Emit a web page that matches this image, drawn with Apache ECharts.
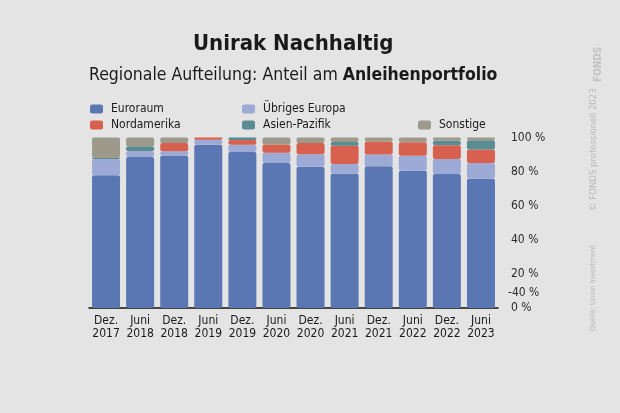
<!DOCTYPE html>
<html>
<head>
<meta charset="utf-8">
<script src="https://cdn.jsdelivr.net/npm/echarts@6/dist/echarts.min.js"></script>
<style>
html,body{margin:0;padding:0;background:#e4e4e4;}
#c{width:620px;height:413px;}
</style>
</head>
<body>
<div id="c"></div>
<script>
var categories = ['Dez.\n2017','Juni\n2018','Dez.\n2018','Juni\n2019','Dez.\n2019','Juni\n2020','Dez.\n2020','Juni\n2021','Dez.\n2021','Juni\n2022','Dez.\n2022','Juni\n2023'];
var euroraum     = [77.8, 88.6, 89.4, 95.8, 91.5, 85.0, 82.9, 78.8, 83.1, 80.5, 78.6, 75.8];
var uebrigesEur  = [9.6, 3.3, 2.5, 2.9, 4.3, 6.0, 7.3, 5.7, 7.0, 8.8, 8.8, 9.2];
var nordamerika  = [0, 0, 4.9, 1.3, 2.8, 4.9, 6.6, 10.6, 7.6, 7.9, 8.0, 8.0];
var asienPazifik = [0.6, 2.9, 0, 0, 1.4, 0, 0, 2.2, 0, 0, 2.7, 5.4];
var sonstige     = [12.0, 5.2, 3.2, 0, 0, 4.1, 3.2, 2.7, 2.3, 2.8, 1.9, 1.6];
var yTicks = [0, 20, 40, 60, 80, 100];

var FONT = '"DejaVu Sans Condensed","Liberation Sans Narrow",sans-serif';
var colors = {
  eu: '#5b77b3', ue: '#9eaad6', na: '#d8604f', ap: '#5a8c94', so: '#9d9a8b'
};
function ser(name, data, color) {
  return {
    name: name, type: 'bar', stack: 'a', data: data, barWidth: 28,
    itemStyle: { color: color, borderRadius: 2 },
    emphasis: { disabled: true }
  };
}
function leg(name, left, top) {
  return {
    data: [name], left: left, top: top, itemWidth: 13, itemHeight: 9,
    itemStyle: { borderRadius: 4 },
    textStyle: { fontFamily: FONT, fontSize: 12, color: '#1a1a1a', padding: [0, 0, 0, 3] },
    padding: 0, selectedMode: false
  };
}
var chart = echarts.init(document.getElementById('c'));
chart.setOption({
  backgroundColor: '#e4e4e4',
  animation: false,
  title: [{
    text: 'Unirak Nachhaltig', left: 188, top: 28,
    textStyle: { fontFamily: FONT, fontWeight: 'bold', fontSize: 22, color: '#1a1a1a' }
  }, {
    text: '{n|Regionale Aufteilung: Anteil am }{b|Anleihenportfolio}', left: 84, top: 61,
    textStyle: { fontWeight: 'normal', rich: {
      n: { fontFamily: FONT, fontSize: 17.5, fontWeight: 'normal', color: '#1a1a1a' },
      b: { fontFamily: FONT, fontSize: 17.5, fontWeight: 'bold', color: '#1a1a1a' }
    } }
  }],
  legend: [
    leg('Euroraum', 90, 103),
    leg('Übriges Europa', 242, 103),
    leg('Nordamerika', 90, 119),
    leg('Asien-Pazifik', 242, 119),
    leg('Sonstige', 418, 119)
  ],
  grid: { left: 89, right: 122, top: 137.5, bottom: 105 },
  xAxis: {
    type: 'category', data: categories,
    axisLine: { lineStyle: { color: '#111', width: 1.5 } },
    axisTick: { show: false },
    axisLabel: { fontFamily: FONT, fontSize: 12, lineHeight: 13, color: '#1a1a1a', margin: 6, interval: 0 }
  },
  yAxis: {
    type: 'value', position: 'right', min: yTicks[0], max: yTicks[yTicks.length - 1], interval: 20,
    axisLine: { show: false }, axisTick: { show: false }, splitLine: { show: false },
    axisLabel: { fontFamily: FONT, fontSize: 12, color: '#2a2a2a', margin: 13, formatter: '{value} %' }
  },
  series: [
    ser('Euroraum', euroraum, colors.eu),
    ser('Übriges Europa', uebrigesEur, colors.ue),
    ser('Nordamerika', nordamerika, colors.na),
    ser('Asien-Pazifik', asienPazifik, colors.ap),
    ser('Sonstige', sonstige, colors.so)
  ],
  graphic: [
    { type: 'text', left: 508, top: 287, style: { text: '-40 %', font: '12px ' + FONT, fill: '#2a2a2a' } },
    { type: 'text', x: 593, y: 82, rotation: Math.PI / 2, style: { text: 'FONDS', font: 'bold 10px ' + FONT, fill: '#c2c2c2' } },
    { type: 'text', x: 589, y: 211, rotation: Math.PI / 2, style: { text: '© FONDS professionell 2023', font: '9.5px ' + FONT, fill: '#b8b8b8' } },
    { type: 'text', x: 589, y: 331, rotation: Math.PI / 2, style: { text: 'Quelle: Union Investment', font: '7.5px ' + FONT, fill: '#b8b8b8' } }
  ]
});
</script>
</body>
</html>
